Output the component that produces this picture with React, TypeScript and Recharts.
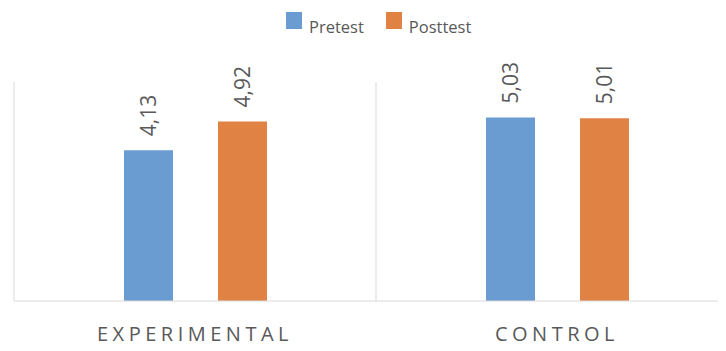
import { BarChart, Bar, XAxis, YAxis, CartesianGrid, LabelList, Legend } from 'recharts';

const groups = ['EXPERIMENTAL', 'CONTROL'];
const pretest = [4.13, 5.03];
const posttest = [4.92, 5.01];
const seriesNames = ['Pretest', 'Posttest'];

const COLORS = ['#6a9bd1', '#e08244'];
const FONT = '"Open Sans", "Noto Sans", sans-serif';
const GREY = '#595959';

const data = groups.map((g, i) => ({ group: g, pretest: pretest[i], posttest: posttest[i] }));

const fmt = (v: number) => v.toFixed(2).replace('.', ',');

function RotatedLabel(props: any) {
  const { x, y, width, value } = props;
  const cx = x + width / 2;
  const cy = y - 14;
  return (
    <text
      x={cx}
      y={cy}
      transform={`rotate(-90, ${cx}, ${cy})`}
      textAnchor="start"
      dominantBaseline="central"
      fill={GREY}
      fontSize={21}
      fontFamily={FONT}
    >
      {fmt(value)}
    </text>
  );
}

function CategoryTick(props: any) {
  const { x, y, payload } = props;
  return (
    <text
      x={x}
      y={y}
      dy={32}
      textAnchor="middle"
      fill={GREY}
      fontSize={20}
      fontFamily={FONT}
      letterSpacing={4.5}
    >
      {payload.value}
    </text>
  );
}

function TopLegend() {
  return (
    <div style={{ display: 'flex', height: 30, alignItems: 'center', fontFamily: FONT, fontSize: 16.5, color: GREY }}>
      {seriesNames.map((name, i) => (
        <div key={name} style={{ display: 'flex', alignItems: 'center', marginRight: 22 }}>
          <span style={{ width: 16, height: 17, background: COLORS[i], display: 'inline-block', marginRight: 7, marginTop: -11 }} />
          <span>{name}</span>
        </div>
      ))}
    </div>
  );
}

export default function App() {
  return (
    <div style={{ width: 718, height: 343, overflow: 'hidden', background: '#fff' }}>
      <BarChart
        width={740}
        height={343}
        data={data}
        margin={{ top: 44, right: 10, bottom: 0, left: 6 }}
        barSize={49}
        barGap={45}
      >
        <CartesianGrid
          horizontal={false}
          stroke="#d9d9d9"
          verticalCoordinatesGenerator={({ offset }: any) => [
            offset.left,
            offset.left + offset.width / 2,
            offset.left + offset.width,
          ]}
        />
        <Legend
          verticalAlign="top"
          content={() => <TopLegend />}
          wrapperStyle={{ top: 3, left: 278, width: 280, height: 30 }}
        />
        <XAxis
          dataKey="group"
          axisLine={{ stroke: '#d9d9d9' }}
          tickLine={false}
          tick={<CategoryTick />}
          height={50}
          interval={0}
        />
        <YAxis hide domain={[0, 6]} />
        <Bar dataKey="pretest" name={seriesNames[0]} fill={COLORS[0]} isAnimationActive={false}>
          <LabelList dataKey="pretest" content={<RotatedLabel />} />
        </Bar>
        <Bar dataKey="posttest" name={seriesNames[1]} fill={COLORS[1]} isAnimationActive={false}>
          <LabelList dataKey="posttest" content={<RotatedLabel />} />
        </Bar>
      </BarChart>
    </div>
  );
}
